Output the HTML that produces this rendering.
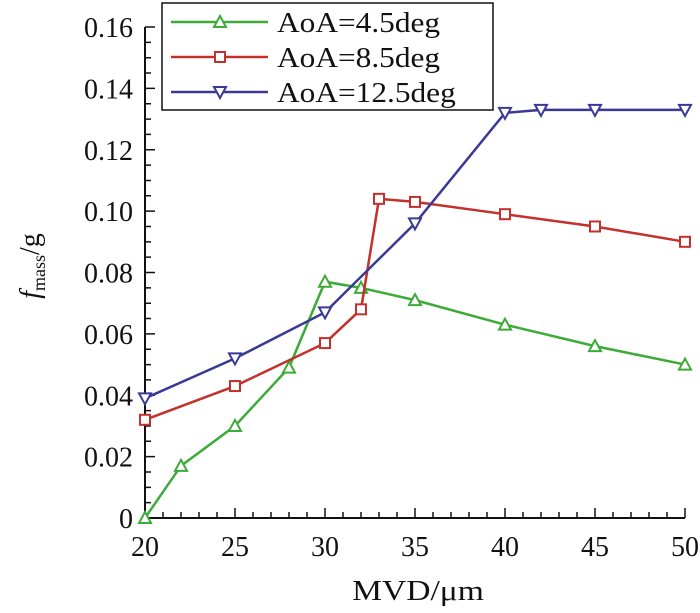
<!DOCTYPE html>
<html><head><meta charset="utf-8"><style>
body{margin:0;background:#fff}
svg, svg text{font-family:"Liberation Serif","Times New Roman","DejaVu Serif",serif !important}
svg text{fill:#111}
</style></head><body>
<svg id="c" width="700" height="608" font-family="Liberation Serif, DejaVu Serif, serif"></svg>
<script>
const xTicks=[20,25,30,35,40,45,50];
const yTicks=[0,0.02,0.04,0.06,0.08,0.10,0.12,0.14,0.16];
const yTickLabels=["0","0.02","0.04","0.06","0.08","0.10","0.12","0.14","0.16"];
const seriesNames=["AoA=4.5deg","AoA=8.5deg","AoA=12.5deg"];
const greenX=[20,22,25,28,30,32,35,40,45,50];
const greenY=[0,0.017,0.030,0.049,0.077,0.075,0.071,0.063,0.056,0.050];
const redX=[20,25,30,32,33,35,40,45,50];
const redY=[0.032,0.043,0.057,0.068,0.104,0.103,0.099,0.095,0.090];
const blueX=[20,25,30,35,40,42,45,50];
const blueY=[0.039,0.052,0.067,0.096,0.132,0.133,0.133,0.133];
const NS="http://www.w3.org/2000/svg";
const svg=document.getElementById('c');
const X0=145,X1=685,Y0=518,Y1=27;
const FF="Liberation Serif, DejaVu Serif, serif";
const FS=28;
const sx=v=>X0+(v-20)/30*(X1-X0);
const sy=v=>Y0-v/0.16*(Y0-Y1);
function mk(t,a,p){const e=document.createElementNS(NS,t);for(const k in a)e.setAttribute(k,a[k]);(p||svg).appendChild(e);return e;}
function txt(x,y,s,anchor,k,p){const g=mk('g',{transform:`translate(${x},${y}) scale(${k},1)`},p);const t=mk('text',{x:0,y:0,'text-anchor':anchor,'font-size':FS,'font-family':FF},g);t.textContent=s;return t;}
const ax=mk('path',{d:`M${X0},${Y1} V${Y0} H${X1}`,fill:'none',stroke:'#111','stroke-width':2});


let tk='';
for(let i=0;i<=30;i++){const x=sx(20+i);tk+=`M${x},${Y0} v${i%5==0?-10:-6}`;}
for(let i=0;i<=32;i++){const y=sy(i*0.005);tk+=`M${X0},${y} h${i%4==0?10:6}`;}
const tp=mk('path',{d:tk,stroke:'#111','stroke-width':1.5,fill:'none'});


xTicks.forEach(v=>{const t=txt(sx(v),Y0+38,String(v),'middle',1);

});
yTicks.forEach((v,i)=>{const t=txt(X0-12,sy(v)+10,yTickLabels[i],'end',1);

});
const xt=txt(418,600,'MVD/μm','middle',1.2);


const yt=mk('text',{transform:'translate(39,266) rotate(-90)','text-anchor':'middle','font-size':FS,'font-family':FF});
yt.innerHTML='<tspan font-style="italic">f</tspan><tspan font-size="18" dy="6">mass</tspan><tspan dy="-6">/g</tspan>';


function marker(g,type,x,y,col){
 if(type=='tri')mk('path',{d:`M${x},${y-6} L${x+6},${y+5} L${x-6},${y+5}Z`,fill:'#fff',stroke:col,'stroke-width':2},g);
 else if(type=='sq')mk('rect',{x:x-5,y:y-5,width:10,height:10,fill:'#fff',stroke:col,'stroke-width':2},g);
 else mk('path',{d:`M${x},${y+6} L${x+6},${y-5} L${x-6},${y-5}Z`,fill:'#fff',stroke:col,'stroke-width':2},g);
}
const series=[[greenX,greenY,'#3cab38','tri','series-aoa-4-5'],[redX,redY,'#c4302b','sq','series-aoa-8-5'],[blueX,blueY,'#3a3a96','inv','series-aoa-12-5']];
series.forEach(([xs,ys,col,m,name])=>{
 const g=mk('g',{});
 
 
 mk('polyline',{points:xs.map((x,i)=>sx(x)+','+sy(ys[i])).join(' '),fill:'none',stroke:col,'stroke-width':2.5},g);
 xs.forEach((x,i)=>marker(g,m,sx(x),sy(ys[i]),col));
});
const lg=mk('g',{});


mk('rect',{x:162,y:3,width:331,height:107,fill:'#fff',stroke:'#111','stroke-width':1.5},lg);
series.forEach(([xs,ys,col,m],i)=>{
 const y=22+i*35;
 const e=mk('g',{},lg);
 
 
 mk('line',{x1:171,x2:268,y1:y,y2:y,stroke:col,'stroke-width':2.5},e);
 marker(e,m,220,y,col);
 txt(277,y+10,seriesNames[i],'start',1.12,e);
});
</script>
</body></html>
